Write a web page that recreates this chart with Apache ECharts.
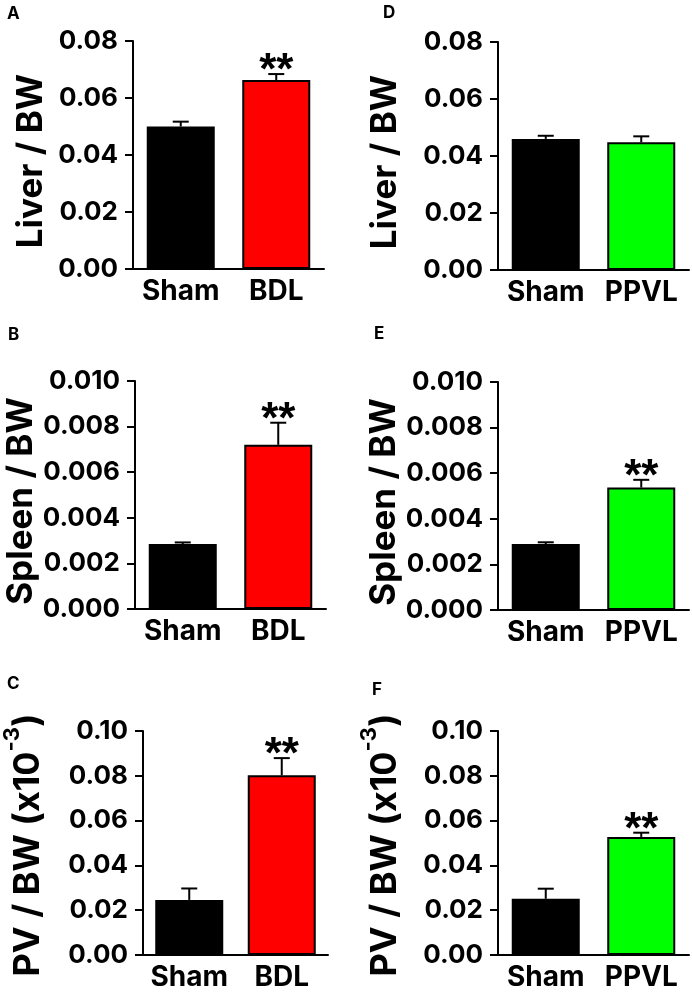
<!DOCTYPE html>
<html>
<head>
<meta charset="utf-8">
<script src="https://cdn.jsdelivr.net/npm/echarts@6/dist/echarts.min.js"></script>
<style>
html,body{margin:0;padding:0;background:#fff;}
#c{width:692px;height:992px;}
</style>
</head>
<body>
<div id="c"></div>
<script>
// ---- data ----
const catsBDL = ['Sham', 'BDL'];
const catsPPVL = ['Sham', 'PPVL'];
const barColorsBDL = ['#000000', '#ff0000'];
const barColorsPPVL = ['#000000', '#00ff00'];

const liverBDL = [0.0500, 0.0663];
const liverBDLErr = [0.0017, 0.0021];
const spleenBDL = [0.00285, 0.0072];
const spleenBDLErr = [0.00007, 0.00097];
const pvBDL = [0.0246, 0.0802];
const pvBDLErr = [0.0051, 0.0077];

const liverPPVL = [0.0460, 0.0448];
const liverPPVLErr = [0.0011, 0.0021];
const spleenPPVL = [0.00289, 0.00537];
const spleenPPVLErr = [0.00008, 0.00034];
const pvPPVL = [0.0251, 0.0527];
const pvPPVLErr = [0.0045, 0.0019];

const sigLiverBDL = ['', '**'];
const sigSpleenBDL = ['', '**'];
const sigPvBDL = ['', '**'];
const sigLiverPPVL = ['', ''];
const sigSpleenPPVL = ['', '**'];
const sigPvPPVL = ['', '**'];

const yMaxs = [0.08, 0.010, 0.10];
const ySteps = [0.02, 0.002, 0.02];
const yDecimals = [2, 3, 2];
const panelLetters = ['A', 'B', 'C', 'D', 'E', 'F'];

// ---- layout ----
const FONT = 'Inter, Liberation Sans, Arial, sans-serif';
const TFONT = 'Liberation Sans, Arial, sans-serif';
const panels = [
  {letter:'A', cats:catsBDL, colors:barColorsBDL, vals:liverBDL, errs:liverBDLErr, sig:sigLiverBDL, row:0,
   grid:{left:133, top:41, width:191, height:228}, gap:84, title:'Liver / BW', lx:7, ly:5},
  {letter:'B', cats:catsBDL, colors:barColorsBDL, vals:spleenBDL, errs:spleenBDLErr, sig:sigSpleenBDL, row:1,
   grid:{left:135, top:381, width:191, height:228}, gap:95, title:'Spleen / BW', lx:8, ly:326},
  {letter:'C', cats:catsBDL, colors:barColorsBDL, vals:pvBDL, errs:pvBDLErr, sig:sigPvBDL, row:2,
   grid:{left:137, top:731, width:191, height:227}, gap:97, title:'pv', lx:7, ly:675},
  {letter:'D', cats:catsPPVL, colors:barColorsPPVL, vals:liverPPVL, errs:liverPPVLErr, sig:sigLiverPPVL, row:0,
   grid:{left:498, top:42, width:191, height:228}, gap:95, title:'Liver / BW', lx:383, ly:4},
  {letter:'E', cats:catsPPVL, colors:barColorsPPVL, vals:spleenPPVL, errs:spleenPPVLErr, sig:sigSpleenPPVL, row:1,
   grid:{left:498, top:382, width:191, height:228}, gap:95, title:'Spleen / BW', lx:374, ly:325},
  {letter:'F', cats:catsPPVL, colors:barColorsPPVL, vals:pvPPVL, errs:pvPPVLErr, sig:sigPvPPVL, row:2,
   grid:{left:498, top:731, width:191, height:227}, gap:95, title:'pv', lx:372, ly:681}
];

const grids = [], xAxes = [], yAxes = [], series = [], graphics = [];
panels.forEach((p, i) => {
  grids.push(Object.assign({containLabel:false}, p.grid));
  xAxes.push({
    type:'category', gridIndex:i, data:p.cats,
    axisLine:{show:true, lineStyle:{color:'#000', width:2}},
    axisTick:{show:false},
    axisLabel:{color:'#000', fontSize:28, fontWeight:'bold', fontFamily:FONT, margin:9, interval:0}
  });
  const dec = yDecimals[p.row];
  const nameIsPv = p.title === 'pv';
  yAxes.push({
    type:'value', gridIndex:i, min:0, max:yMaxs[p.row], interval:ySteps[p.row],
    splitLine:{show:false},
    axisLine:{show:true, lineStyle:{color:'#000', width:2}},
    axisTick:{show:true, length:8, lineStyle:{color:'#000', width:2}},
    axisLabel:{color:'#000', fontSize:26, fontWeight:'bold', fontFamily:FONT, margin:15,
      formatter:(v) => v.toFixed(dec)},
    name: nameIsPv ? '{a|PV / BW (x10}{s|-3}{a|)}' : p.title,
    nameLocation:'middle', nameRotate:90, nameGap:p.gap,
    nameTextStyle: nameIsPv ? {
      color:'#000', padding:[0,4,0,0],
      rich:{
        a:{fontSize:36, fontWeight:'bold', fontFamily:FONT, color:'#000', verticalAlign:'bottom', lineHeight:45},
        s:{fontSize:22, fontWeight:'bold', fontFamily:FONT, color:'#000', verticalAlign:'top', lineHeight:45}
      }
    } : {color:'#000', fontSize:35, fontWeight:'bold', fontFamily:FONT, padding:[0,12,0,0]}
  });
  series.push({
    type:'bar', xAxisIndex:i, yAxisIndex:i, barWidth:68,
    data:p.vals.map((v, k) => ({value:v, itemStyle:{color:p.colors[k]}})),
    itemStyle:{borderColor:'#000', borderWidth:2},
    silent:true, animation:false
  });
  series.push({
    type:'custom', xAxisIndex:i, yAxisIndex:i, z:5, animation:false, silent:true,
    data:p.vals.map((v, k) => [k, v, p.errs[k], p.sig[k]]),
    renderItem:(params, api) => {
      const k = api.value(0), v = api.value(1), e = api.value(2);
      const s = p.sig[k];
      const a = api.coord([k, v]);
      const b = api.coord([k, v + e]);
      const children = [
        {type:'line', shape:{x1:a[0], y1:a[1], x2:b[0], y2:b[1]}, style:{stroke:'#000', lineWidth:2}},
        {type:'line', shape:{x1:b[0]-8, y1:b[1], x2:b[0]+8, y2:b[1]}, style:{stroke:'#000', lineWidth:2}}
      ];
      if (s) {
        children.push({type:'text', style:{text:s, x:b[0], y:b[1]-2, align:'center', verticalAlign:'middle',
          font:'bold 44px ' + TFONT, fill:'#000'}});
      }
      return {type:'group', children};
    }
  });
  graphics.push({type:'text', left:p.lx, top:p.ly, style:{text:p.letter, font:'bold 17px ' + FONT, fill:'#000'}});
});

const chart = echarts.init(document.getElementById('c'));
chart.setOption({
  animation:false,
  backgroundColor:'#fff',
  grid:grids, xAxis:xAxes, yAxis:yAxes, series:series, graphic:graphics
});
</script>
</body>
</html>
